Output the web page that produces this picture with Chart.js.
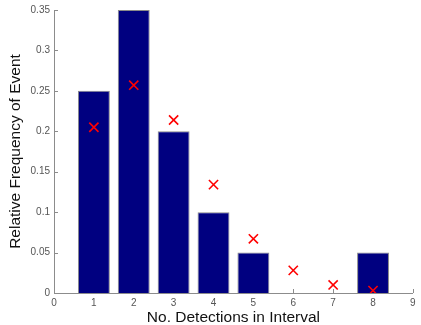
<!DOCTYPE html>
<html>
<head>
<meta charset="utf-8">
<style>
  html, body { margin: 0; padding: 0; background: #fff; }
  #wrap { width: 421px; height: 325px; }
</style>
</head>
<body>
<div id="wrap"><canvas id="freqChart" width="421" height="325"></canvas></div>

<script src="https://cdn.jsdelivr.net/npm/chart.js"></script>
<script>
  // detections per interval and observed / expected relative frequency
  const detections = [1, 2, 3, 4, 5, 6, 7, 8];
  const observed = [0.25, 0.35, 0.2, 0.1, 0.05, 0, 0, 0.05];
  const expected = [0.205, 0.257, 0.214, 0.134, 0.067, 0.028, 0.010, 0.003];
  const xTicks = [0, 1, 2, 3, 4, 5, 6, 7, 8, 9];
  const yTicks = [0, 0.05, 0.1, 0.15, 0.2, 0.25, 0.3, 0.35];

  const axisGray = '#8c8c8c';

  // MATLAB style: short ticks pointing into the plot
  const innerTicks = {
    id: 'innerTicks',
    beforeDatasetsDraw(chart) {
      const { ctx, chartArea, scales } = chart;
      ctx.save();
      ctx.strokeStyle = axisGray;
      ctx.lineWidth = 1;
      ctx.beginPath();
      xTicks.forEach(v => {
        const px = Math.round(scales.x.getPixelForValue(v)) + 0.5;
        ctx.moveTo(px, chartArea.bottom);
        ctx.lineTo(px, chartArea.bottom - 4);
      });
      yTicks.forEach(v => {
        const py = Math.round(scales.y.getPixelForValue(v)) + 0.5;
        ctx.moveTo(chartArea.left, py);
        ctx.lineTo(chartArea.left + 4, py);
      });
      ctx.stroke();
      ctx.restore();
    }
  };

  const ctx = document.getElementById('freqChart').getContext('2d');
  new Chart(ctx, {
    type: 'bar',
    data: {
      datasets: [{
        type: 'bar',
        label: 'Observed',
        data: detections.map((d, i) => ({ x: d, y: observed[i] })),
        backgroundColor: '#000080',
        borderColor: '#8a8a8a',
        borderWidth: 1,
        borderSkipped: 'bottom',
        categoryPercentage: 1,
        barPercentage: 0.8,
        order: 2
      }, {
        type: 'scatter',
        label: 'Expected',
        data: detections.map((d, i) => ({ x: d, y: expected[i] })),
        pointStyle: 'crossRot',
        pointRadius: 6.5,
        pointHoverRadius: 6.5,
        borderColor: '#ff0000',
        borderWidth: 1.6,
        showLine: false,
        order: 1
      }]
    },
    options: {
      responsive: false,
      animation: false,
      layout: { padding: { top: 10, right: 8, left: 0, bottom: 0 } },
      plugins: {
        legend: { display: false },
        tooltip: { enabled: false }
      },
      scales: {
        x: {
          type: 'linear',
          min: 0,
          max: 9,
          offset: false,
          afterBuildTicks: s => { s.ticks = xTicks.map(v => ({ value: v })); },
          afterFit: s => { s.height = 32; },
          border: { color: axisGray, width: 1 },
          grid: { display: false, drawTicks: false },
          ticks: {
            padding: 4,
            color: '#555',
            font: { family: 'Liberation Sans, Arial, sans-serif', size: 10 }
          },
          title: {
            display: true,
            text: 'No. Detections in Interval',
            color: '#111',
            padding: { top: 0, bottom: -2 },
            font: { family: 'Liberation Sans, Arial, sans-serif', size: 15.5 }
          }
        },
        y: {
          min: 0,
          max: 0.35,
          afterBuildTicks: s => { s.ticks = yTicks.map(v => ({ value: v })); },
          afterFit: s => { s.width = 54; },
          border: { color: axisGray, width: 1 },
          grid: { display: false, drawTicks: false },
          ticks: {
            padding: 4,
            color: '#555',
            font: { family: 'Liberation Sans, Arial, sans-serif', size: 10 },
            callback: v => String(Math.round(v * 100) / 100)
          },
          title: {
            display: true,
            text: 'Relative Frequency of Event',
            color: '#111',
            padding: { top: 6, bottom: 0 },
            font: { family: 'Liberation Sans, Arial, sans-serif', size: 15.5 }
          }
        }
      }
    },
    plugins: [innerTicks]
  });
</script>
</body>
</html>
